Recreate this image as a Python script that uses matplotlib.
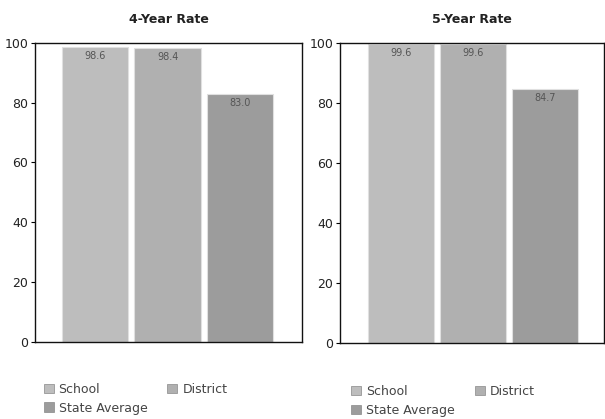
import matplotlib.pyplot as plt
from matplotlib.patches import Patch

# graduation rates
groups = ['School', 'District', 'State Average']
rate_4yr = [98.6, 98.4, 83.0]
rate_5yr = [99.6, 99.6, 84.7]
titles = ['4-Year Rate', '5-Year Rate']
yticks = [0, 20, 40, 60, 80, 100]

colors = ['#bdbdbd', '#b0b0b0', '#9c9c9c']

fig = plt.figure(figsize=(6.05, 4.19), dpi=100)
ax1 = fig.add_axes([0.058, 0.184, 0.441, 0.714])
ax2 = fig.add_axes([0.562, 0.182, 0.436, 0.716])

panels = [(ax1, rate_4yr, (-0.83, 2.855), 0.072, 0.086),
          (ax2, rate_5yr, (-0.854, 2.82), 0.580, 0.081)]

# row-major legend order (School, District / State Average)
order = [0, 2, 1]

for (ax, vals, xl, lx, ly), title in zip(panels, titles):
    x = range(len(groups))
    ax.bar(x, vals, width=0.92, color=colors, edgecolor='#e0e0e0', linewidth=0.8)
    for xi, v in zip(x, vals):
        ax.text(xi, v - 1.5, f'{v:.1f}', ha='center', va='top', fontsize=7, color='#555555')
    ax.set_xlim(*xl)
    ax.set_ylim(0, 100)
    ax.set_yticks(yticks)
    ax.set_yticklabels([str(t) for t in yticks], fontsize=9, color='#222222')
    ax.set_xticks([])
    ax.tick_params(axis='y', length=3, width=0.8, pad=2)
    for s in ax.spines.values():
        s.set_linewidth(1.0)
        s.set_color('#111111')
    ax.set_title(title, fontsize=9, fontweight='bold', pad=14, color='#222222')

    handles = [Patch(facecolor=colors[i], edgecolor='#888888', linewidth=0.5) for i in order]
    labels = [groups[i] for i in order]
    fig.legend(handles, labels, loc='upper left', bbox_to_anchor=(lx, ly),
               ncol=2, frameon=False, fontsize=9, handlelength=0.8, handleheight=0.8,
               handletextpad=0.4, columnspacing=1.6, labelspacing=0.45,
               borderaxespad=0, borderpad=0, labelcolor='#444444')

fig.savefig('out.png', dpi=100)
